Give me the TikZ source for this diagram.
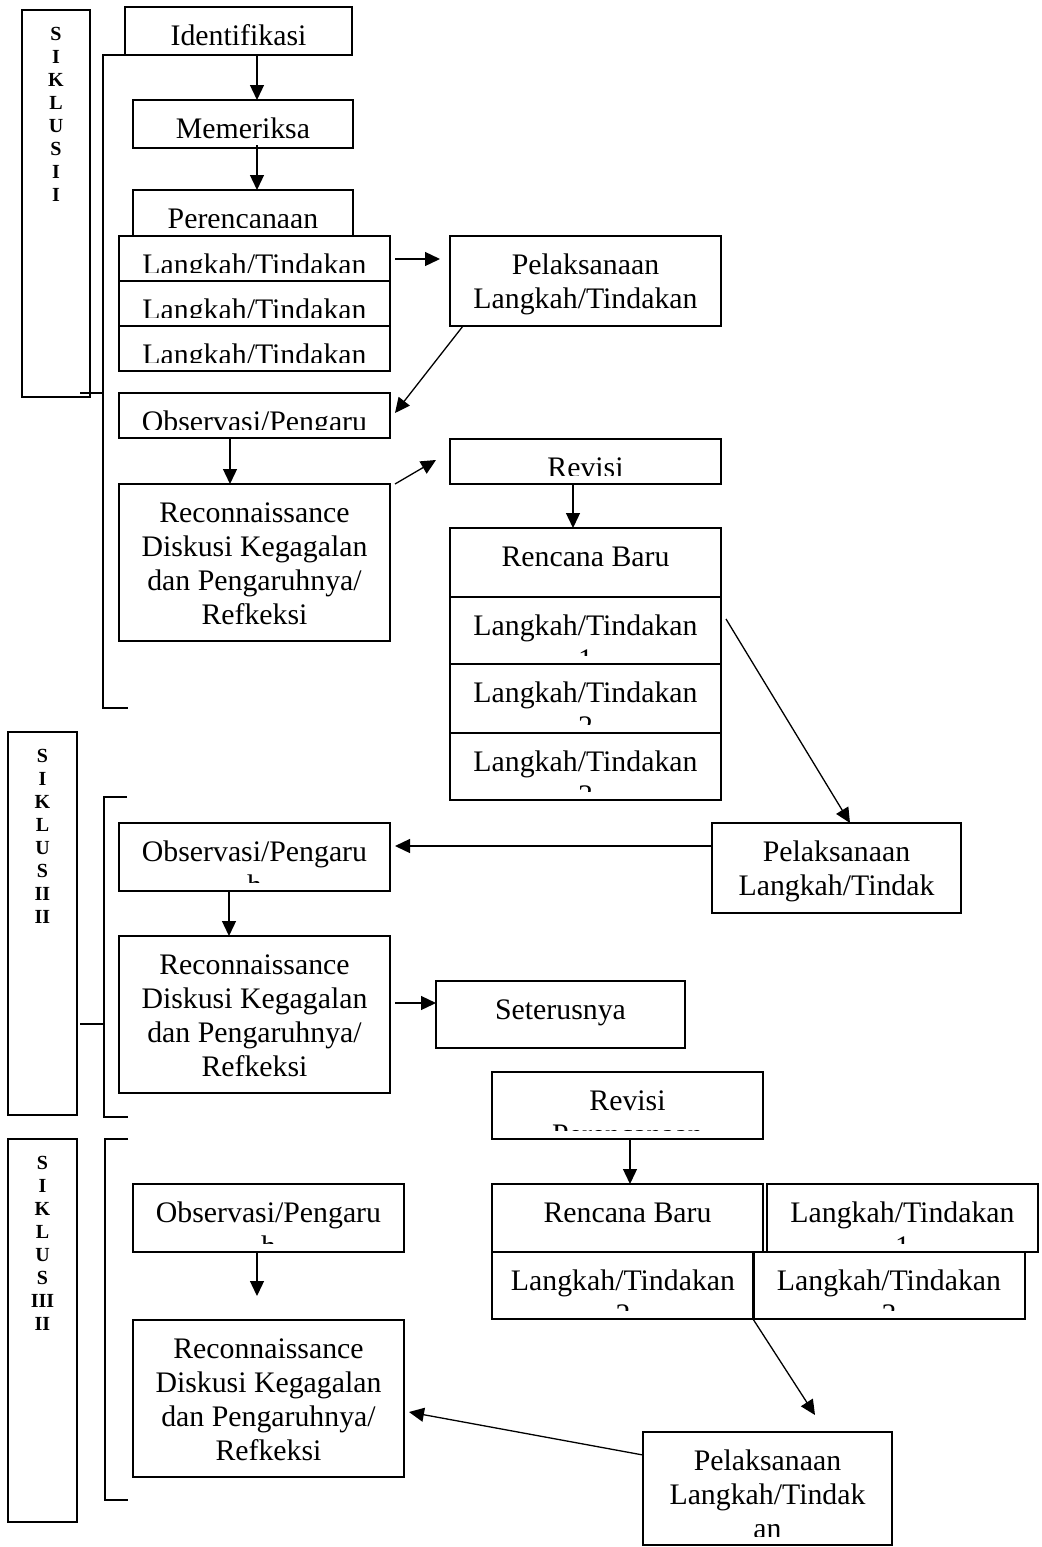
\documentclass[tikz,border=0pt]{standalone}
\usepackage{fontspec}
\setmainfont{Liberation Serif}
\usetikzlibrary{arrows.meta, positioning, calc, fit}

\newcommand{\boxfont}{\fontsize{14.9}{17}\selectfont}
\newcommand{\sidefont}{\fontsize{10}{11.5}\selectfont\bfseries}
% text of a box, cut off by the inner margins of the box
\newcommand{\boxtxt}[2]{%
  \begin{scope}
    \clip ([xshift=1pt,yshift=4.5pt]#1.south west) rectangle ([xshift=-1pt,yshift=-4.5pt]#1.north east);
    \node[intxt] (#1-t) at ([yshift=-7.35pt]#1.north) {\rule{0pt}{11.9pt}#2};
  \end{scope}}

\tikzset{
  box/.style={draw, line width=0.85pt, inner sep=0pt, outer sep=0pt},
  intxt/.style={anchor=north, inner sep=0pt, outer sep=0pt, align=center, font=\boxfont},
  side/.style={anchor=north, inner sep=0pt, align=center, font=\sidefont},
  arr/.style={line width=0.65pt, -{Triangle[length=7.5pt, width=7pt]}},
  brk/.style={line width=0.85pt}
}

\begin{document}
\begin{tikzpicture}[x=0.5pt, y=-0.5pt]
    \useasboundingbox (0,0) rectangle (1042,1547);

    % Siklus I
    \node[box, fit={(22,10) (90,397)}] (sikI) {};
    \node[side] (sikIlbl) at ($(sikI.north)+(0,16.5)$) {S\\I\\K\\L\\U\\S\\I\\I};

    \node[box, fit={(125,7) (352,55)}] (ident) {};
    \node[box, fit={(133,100) (353,148)}] (periksa) {};
    \node[box, fit={(133,190) (353,236)}] (renc1) {};
    \node[box, fit={(119,236) (390,281)}] (lk1a) {};
    \node[box, fit={(119,281) (390,326)}] (lk1b) {};
    \node[box, fit={(119,326) (390,371)}] (lk1c) {};
    \node[box, fit={(450,236) (721,326)}] (pel1) {};
    \node[box, fit={(119,393) (390,438)}] (obs1) {};
    \node[box, fit={(119,484) (390,641)}] (recon1) {};
    \node[box, fit={(450,439) (721,484)}] (rev1) {};
    \node[box, fit={(450,528) (721,597)}] (baru1) {};
    \node[box, fit={(450,597) (721,664)}] (lk2a) {};
    \node[box, fit={(450,664) (721,733)}] (lk2b) {};
    \node[box, fit={(450,733) (721,800)}] (lk2c) {};

    \boxtxt{ident}{Identifikasi}
    \boxtxt{periksa}{Memeriksa}
    \boxtxt{renc1}{Perencanaan}
    \boxtxt{lk1a}{Langkah/Tindakan}
    \boxtxt{lk1b}{Langkah/Tindakan}
    \boxtxt{lk1c}{Langkah/Tindakan}
    \boxtxt{pel1}{Pelaksanaan\\Langkah/Tindakan}
    \boxtxt{obs1}{Observasi/Pengaru}
    \boxtxt{recon1}{Reconnaissance\\Diskusi Kegagalan\\dan Pengaruhnya/\\Refkeksi}
    \boxtxt{rev1}{Revisi}
    \boxtxt{baru1}{Rencana Baru}
    \boxtxt{lk2a}{Langkah/Tindakan\\1}
    \boxtxt{lk2b}{Langkah/Tindakan\\2}
    \boxtxt{lk2c}{Langkah/Tindakan\\3}

    \draw[arr] ($(ident.south west)+(132,0)$) -- ($(periksa.north west)+(124,0)$);
    \draw[arr] ($(periksa.south west)+(124,-3)$) -- ($(renc1.north west)+(124,0)$);
    \draw[arr] ($(lk1a.north east)+(5,23)$) -- ($(pel1.north west)+(-10,23)$);
    \draw[arr] ($(pel1.south west)+(13,0)$) -- ($(obs1.north east)+(5,20)$);
    \draw[arr] ($(obs1.south west)+(111,0)$) -- ($(recon1.north west)+(111,0)$);
    \draw[arr] ($(recon1.north east)+(5,0)$) -- ($(rev1.north west)+(-14,21)$);
    \draw[arr] ($(rev1.south west)+(123,0)$) -- ($(baru1.north west)+(123,0)$);

    % bracket I
    \coordinate (b1top) at (103,55);
    \coordinate (b1bot) at (103,708);
    \coordinate (b1end) at (128,708);
    \coordinate (b1tick) at (80,393);
    \draw[brk] (ident.south west) -- (b1top) -- (b1bot) -- (b1end);
    \draw[brk] (b1tick) -- (b1tick -| b1top);

    % Siklus II
    \node[box, fit={(8,732) (77,1115)}] (sikII) {};
    \node[side] (sikIIlbl) at ($(sikII.north)+(0,16.5)$) {S\\I\\K\\L\\U\\S\\II\\II};

    \node[box, fit={(712,823) (961,913)}] (pel2) {};
    \node[box, fit={(119,823) (390,891)}] (obs2) {};
    \node[box, fit={(119,936) (390,1093)}] (recon2) {};
    \node[box, fit={(436,981) (685,1048)}] (seter) {};

    \boxtxt{pel2}{Pelaksanaan\\Langkah/Tindak}
    \boxtxt{obs2}{Observasi/Pengaru\\h}
    \boxtxt{recon2}{Reconnaissance\\Diskusi Kegagalan\\dan Pengaruhnya/\\Refkeksi}
    \boxtxt{seter}{Seterusnya}

    \draw[arr] ($(lk2a.north east)+(5,22)$) -- ($(pel2.north west)+(138,0)$);
    \draw[arr] ($(pel2.north west)+(0,23)$) -- ($(obs2.north east)+(5,23)$);
    \draw[arr] ($(obs2.south west)+(110,0)$) -- ($(recon2.north west)+(110,0)$);
    \draw[arr] ($(recon2.north east)+(5,67)$) -- ($(seter.north west)+(0,22)$);

    % bracket II
    \coordinate (b2top) at (104,797);
    \coordinate (b2bot) at (104,1117);
    \coordinate (b2tick) at (80,1024);
    \draw[brk] (127,797) -- (b2top) -- (b2bot) -- (128,1117);
    \draw[brk] (b2tick) -- (b2tick -| b2top);

    % Siklus III
    \node[box, fit={(8,1139) (77,1522)}] (sikIII) {};
    \node[side] (sikIIIlbl) at ($(sikIII.north)+(0,16.5)$) {S\\I\\K\\L\\U\\S\\III\\II};

    \node[box, fit={(492,1072) (763,1139)}] (rev2) {};
    \node[box, fit={(492,1184) (763,1252)}] (baru2) {};
    \node[box, fit={(767,1184) (1038,1252)}] (lk3a) {};
    \node[box, fit={(492,1252) (754,1319)}] (lk3b) {};
    \node[box, fit={(753,1252) (1025,1319)}] (lk3c) {};
    \node[box, fit={(643,1432) (892,1545)}] (pel3) {};
    \node[box, fit={(133,1184) (404,1252)}] (obs3) {};
    \node[box, fit={(133,1320) (404,1477)}] (recon3) {};

    \boxtxt{rev2}{Revisi\\Perencanaan}
    \boxtxt{baru2}{Rencana Baru}
    \boxtxt{lk3a}{Langkah/Tindakan\\1}
    \boxtxt{lk3b}{Langkah/Tindakan\\2}
    \boxtxt{lk3c}{Langkah/Tindakan\\3}
    \boxtxt{pel3}{Pelaksanaan\\Langkah/Tindak\\an}
    \boxtxt{obs3}{Observasi/Pengaru\\h}
    \boxtxt{recon3}{Reconnaissance\\Diskusi Kegagalan\\dan Pengaruhnya/\\Refkeksi}

    \draw[arr] ($(rev2.south west)+(138,0)$) -- ($(baru2.north west)+(138,0)$);
    \draw[arr] ($(lk3b.south east)+(-1,0)$) -- ($(pel3.north west)+(172,-17)$);
    \draw[arr] ($(pel3.north west)+(0,23)$) -- ($(recon3.north east)+(5,92)$);
    \draw[arr] ($(obs3.south west)+(124,0)$) -- ($(recon3.north west)+(124,-24)$);

    % bracket III
    \coordinate (b3top) at (105,1139);
    \coordinate (b3bot) at (105,1500);
    \draw[brk] (128,1139) -- (b3top) -- (b3bot) -- (128,1500);

\end{tikzpicture}
\end{document}
